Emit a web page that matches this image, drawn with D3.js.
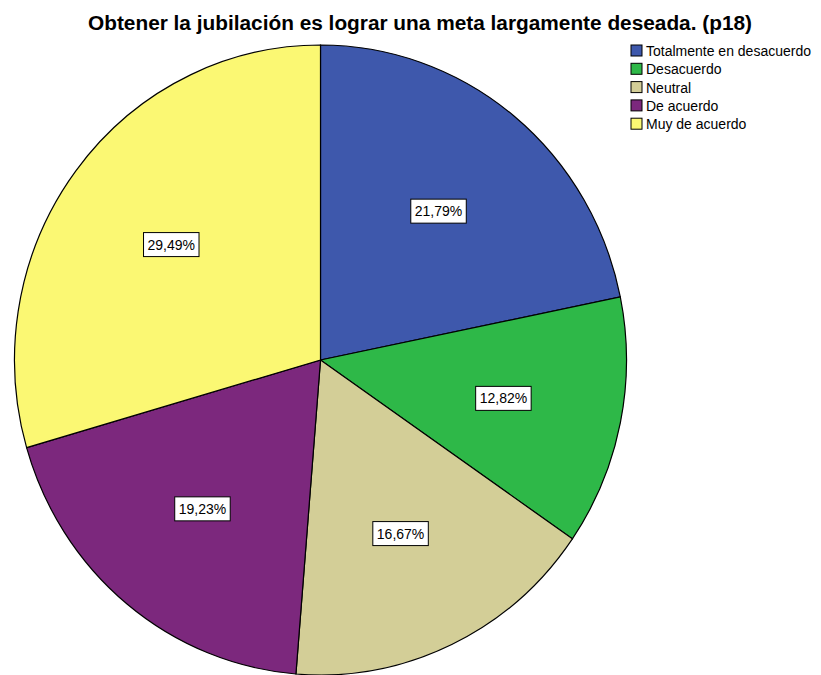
<!DOCTYPE html>
<html>
<head>
<meta charset="utf-8">
<script src="https://cdn.jsdelivr.net/npm/d3@7"></script>
<style>
  html, body { margin: 0; padding: 0; background: #fff; }
  svg { display: block; }
</style>
</head>
<body>
<svg id="chart"></svg>
<script>
var categories = ['Totalmente en desacuerdo', 'Desacuerdo', 'Neutral', 'De acuerdo', 'Muy de acuerdo'];
var percents = [21.79, 12.82, 16.67, 19.23, 29.49];
var colors = ['#3E58AC', '#2EB848', '#D3CE97', '#7C287D', '#FBF873'];
var title = 'Obtener la jubilación es lograr una meta largamente deseada. (p18)';

var width = 821, height = 675;
var cx = 320.5, cy = 360, rx = 306, ry = 315;

var svg = d3.select('#chart').attr('width', width).attr('height', height);

svg.append('text')
    .attr('x', 420)
    .attr('y', 30)
    .attr('text-anchor', 'middle')
    .attr('textLength', 664)
    .attr('lengthAdjust', 'spacingAndGlyphs')
    .style('font-family', '"Liberation Sans", Arial, sans-serif')
    .style('font-weight', 'bold')
    .style('font-size', '20px')
    .text(title);

var data = categories.map(function(c, i) { return { name: c, value: percents[i], color: colors[i] }; });

var pie = d3.pie().sort(null).value(function(d) { return d.value; });
var arcs = pie(data);
var arc = d3.arc().innerRadius(0).outerRadius(rx);
var labelArc = d3.arc().innerRadius(rx * 0.61).outerRadius(rx * 0.61);

var pieG = svg.append('g')
    .attr('transform', 'translate(' + cx + ',' + cy + ') scale(1,' + (ry / rx) + ')');

pieG.selectAll('path')
    .data(arcs)
    .enter()
    .append('path')
    .attr('d', arc)
    .attr('fill', function(d) { return d.data.color; })
    .attr('stroke', '#000')
    .attr('stroke-width', 1.2)
    .attr('vector-effect', 'non-scaling-stroke');

var labelG = svg.append('g').attr('transform', 'translate(' + cx + ',' + cy + ')');
var fmt = function(v) { return v.toFixed(2).replace('.', ',') + '%'; };

var labels = labelG.selectAll('g.lbl')
    .data(arcs)
    .enter()
    .append('g')
    .attr('class', 'lbl')
    .attr('transform', function(d) {
        var c = labelArc.centroid(d);
        return 'translate(' + c[0] + ',' + (c[1] * ry / rx) + ')';
    });

labels.append('text')
    .attr('text-anchor', 'middle')
    .attr('dy', '0.36em')
    .style('font-family', '"Liberation Sans", Arial, sans-serif')
    .style('font-size', '14px')
    .text(function(d) { return fmt(d.data.value); });

labels.each(function() {
    var g = d3.select(this);
    var bb = g.select('text').node().getBBox();
    g.insert('rect', 'text')
        .attr('x', bb.x - 4)
        .attr('y', -12)
        .attr('width', bb.width + 8)
        .attr('height', 24)
        .attr('fill', '#fff')
        .attr('stroke', '#000')
        .attr('stroke-width', 1);
});

var legend = svg.append('g').attr('transform', 'translate(631,45)');
var items = legend.selectAll('g')
    .data(data)
    .enter()
    .append('g')
    .attr('transform', function(d, i) { return 'translate(0,' + (i * 18.3) + ')'; });

items.append('rect')
    .attr('width', 11)
    .attr('height', 11)
    .attr('fill', function(d) { return d.color; })
    .attr('stroke', '#000')
    .attr('stroke-width', 1);

items.append('text')
    .attr('x', 15)
    .attr('y', 6)
    .attr('dy', '0.36em')
    .style('font-family', '"Liberation Sans", Arial, sans-serif')
    .style('font-size', '14px')
    .text(function(d) { return d.name; });
</script>
</body>
</html>
